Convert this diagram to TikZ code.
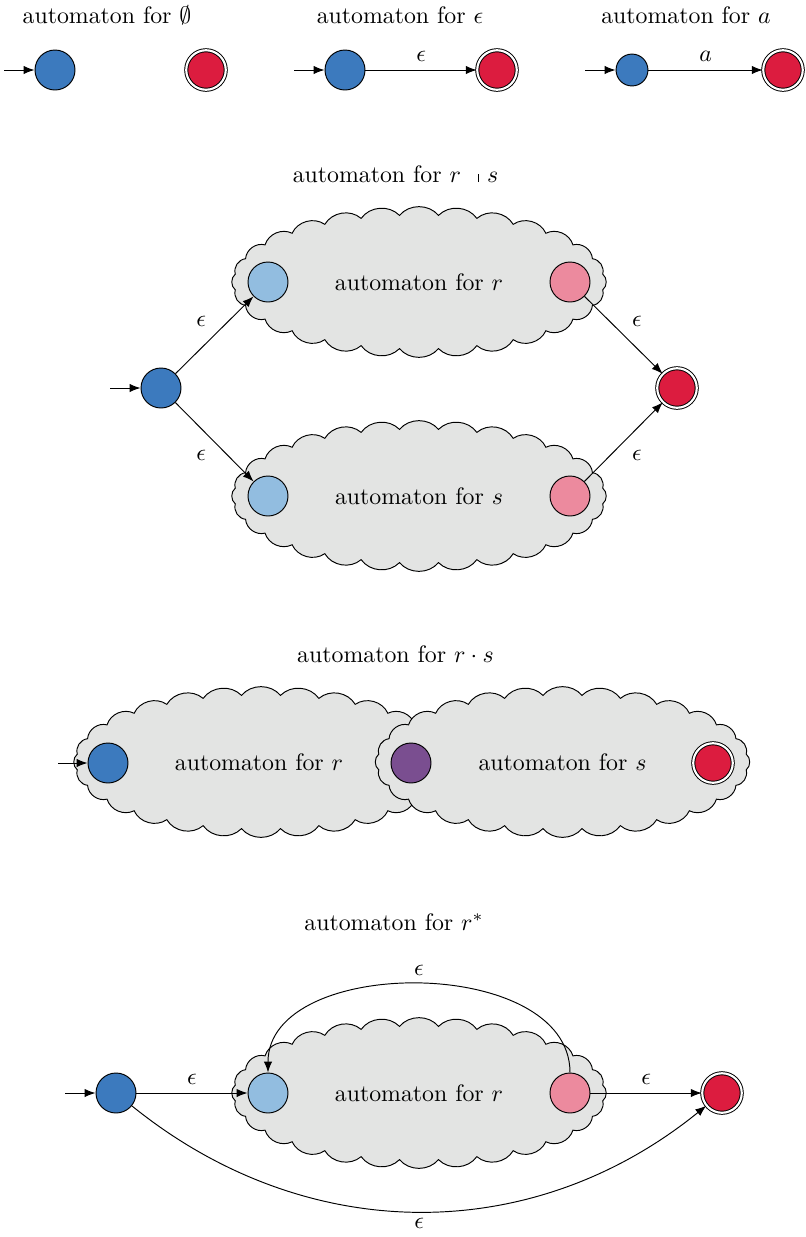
\documentclass[tikz,border=0pt]{standalone}
\usetikzlibrary{arrows.meta}

\definecolor{startblue}{HTML}{3C7ABE}
\definecolor{acceptred}{HTML}{DC1C3F}
\definecolor{innerblue}{HTML}{92BDE0}
\definecolor{innerpink}{HTML}{EC8A9E}
\definecolor{mergepurple}{HTML}{7A4E90}
\definecolor{cloudgray}{HTML}{E3E4E3}

% Scalloped outline for a sub-automaton: 28 puffs whose joints lie on an
% ellipse (half axes 185 x 67), spread slightly towards even spacing.
\newcommand\puffblob[2]{%
  \draw[blobline] ({#1+185*cos(6.4286+1.7*sin(12.857))},{#2+67*sin(6.4286+1.7*sin(12.857))})
    \foreach \pbi in {1,...,28}
      { to[bend right=50]
        ({#1+185*cos((\pbi+0.5)*12.857+1.7*sin((2*\pbi+1)*12.857))},
         {#2+67*sin((\pbi+0.5)*12.857+1.7*sin((2*\pbi+1)*12.857))}) } -- cycle;}

\begin{document}
\begin{tikzpicture}[x=0.42pt,y=0.42pt,
  state/.style={circle,draw,inner sep=0pt,minimum size=16.8pt},
  initstate/.style={state,fill=startblue},
  accstate/.style={circle,draw,double,double distance=0.9pt,inner sep=0pt,
                   minimum size=16.6pt,fill=acceptred},
  blobline/.style={draw,fill=cloudgray,line join=miter},
  blobtext/.style={inner sep=0pt},
  title/.style={anchor=base,inner sep=0pt},
  trans/.style={-{Latex[length=4.6pt,width=3.5pt]}}
]
\useasboundingbox (0,0) rectangle (806,-1237);

% --- base cases: empty set, epsilon, single symbol ---
\node[title] (tnull) at (107,-23) {automaton for $\emptyset$};
\node[initstate] (n0) at (55,-70) {};
\node[accstate] (n1) at (206,-70) {};
\coordinate (n0in) at (4,-70);
\draw[trans] (n0in) -- (n0);

\node[title] (teps) at (400,-23) {automaton for $\epsilon$};
\node[initstate] (p0) at (345,-70) {};
\node[accstate] (p1) at (497,-70) {};
\coordinate (p0in) at (294,-70);
\draw[trans] (p0in) -- (p0);
\draw[trans] (p0) -- node[above] {$\epsilon$} (p1);

\node[title] (tsym) at (686,-23) {automaton for $a$};
\node[state,fill=startblue,minimum size=13.4pt] (a0) at (632,-70) {};
\node[accstate] (a1) at (783,-70) {};
\coordinate (a0in) at (585,-70);
\draw[trans] (a0in) -- (a0);
\draw[trans] (a0) -- node[above] {$a$} (a1);

% --- union ---
\node[title] (tunion) at (395.5,-182)
  {automaton for $r\kern7.2pt\rule{0.35pt}{3.4pt}\kern3.4pt s$};
\puffblob{419}{-282}
\puffblob{419}{-496}
\node[blobtext] (ur) at (419,-282) {automaton for $r$};
\node[blobtext] (us) at (419,-496) {automaton for $s$};
\node[state,fill=innerblue] (ur0) at (268,-282) {};
\node[state,fill=innerpink] (ur1) at (570,-282) {};
\node[state,fill=innerblue] (us0) at (268,-496) {};
\node[state,fill=innerpink] (us1) at (570,-496) {};
\node[initstate] (u0) at (161,-388) {};
\node[accstate] (u1) at (677,-388) {};
\coordinate (u0in) at (110,-388);
\draw[trans] (u0in) -- (u0);
\draw[trans] (u0) -- node[above left] {$\epsilon$} (ur0);
\draw[trans] (u0) -- node[below left] {$\epsilon$} (us0);
\draw[trans] (ur1) -- node[above right] {$\epsilon$} (u1);
\draw[trans] (us1) -- node[below right] {$\epsilon$} (u1);

% --- concatenation ---
\node[title] (tconcat) at (395.5,-662) {automaton for $r\cdot s$};
\puffblob{261}{-762}
\node[blobtext] (cr) at (259,-762) {automaton for $r$};
\puffblob{562.5}{-762}
\node[blobtext] (cs) at (562.5,-762) {automaton for $s$};
\node[initstate] (c0) at (108,-763) {};
\node[state,fill=mergepurple] (cm) at (411,-763) {};
\node[accstate] (c1) at (713,-763) {};
\coordinate (c0in) at (58,-763);
\draw[trans] (c0in) -- (c0);

% --- Kleene star ---
\node[title] (tstar) at (394,-930) {automaton for $r^*$};
\puffblob{419}{-1093}
\node[blobtext] (kr) at (419,-1093) {automaton for $r$};
\node[initstate] (k0) at (116,-1093) {};
\node[state,fill=innerblue] (ka) at (268,-1093) {};
\node[state,fill=innerpink] (kb) at (570,-1093) {};
\node[accstate] (k1) at (722,-1093) {};
\coordinate (k0in) at (65,-1093);
\draw[trans] (k0in) -- (k0);
\draw[trans] (k0) -- node[above] {$\epsilon$} (ka);
\draw[trans] (kb) -- node[above] {$\epsilon$} (k1);
\draw[trans] (kb) to[out=90,in=90,looseness=1] node[above] {$\epsilon$} (ka);
\draw[trans] (k0) to[bend right=39] node[below,inner sep=2.6pt] {$\epsilon$} (k1);
\end{tikzpicture}
\end{document}
